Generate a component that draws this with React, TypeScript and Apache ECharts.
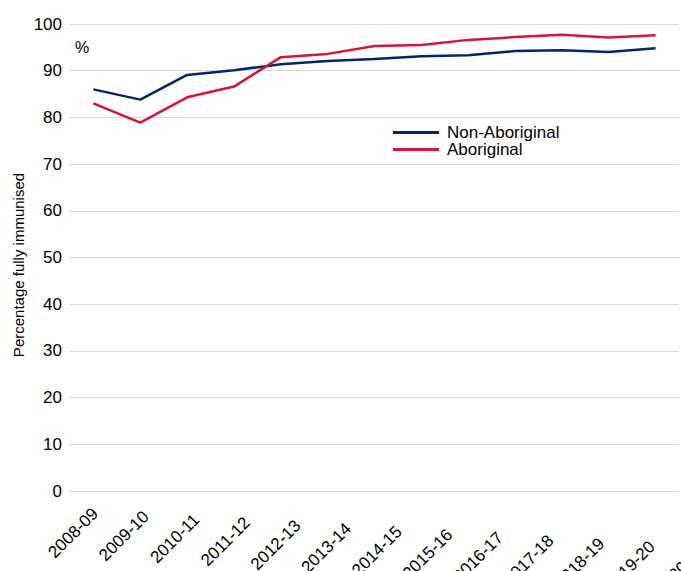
import React, { useEffect, useRef } from "react";
import * as echarts from "echarts";

const categories = [
  "2008-09", "2009-10", "2010-11", "2011-12", "2012-13", "2013-14", "2014-15",
  "2015-16", "2016-17", "2017-18", "2018-19", "2019-20", "2020-21",
];
const nonAboriginal = [86.0, 83.8, 89.1, 90.1, 91.4, 92.1, 92.5, 93.1, 93.3, 94.2, 94.4, 94.0, 94.8];
const aboriginal = [83.0, 78.9, 84.3, 86.6, 92.9, 93.6, 95.3, 95.5, 96.6, 97.2, 97.7, 97.1, 97.6];
const yTicks = [0, 10, 20, 30, 40, 50, 60, 70, 80, 90, 100];

const FONT = "'Liberation Sans', Arial, Helvetica, sans-serif";

export default function App() {
  const ref = useRef<HTMLDivElement>(null);
  useEffect(() => {
    if (!ref.current) return;
    const chart = echarts.init(ref.current, undefined, { renderer: "svg" });
    const rich: Record<string, any> = {};
    categories.forEach((_, i) => {
      const d = 3 * i;
      rich["p" + i] = {
        fontFamily: FONT,
        fontSize: 17,
        color: "#000",
        padding: [1.414 * d, 0.707 * d, 0, 0],
      };
    });
    chart.setOption({
      animation: false,
      textStyle: { fontFamily: FONT },
      grid: [
        { left: 70, right: 2, top: 24, bottom: 80, containLabel: false, outerBoundsMode: "none" },
        { left: 70, width: 658, top: 24, bottom: 80, containLabel: false, outerBoundsMode: "none" },
      ],
      legend: {
        orient: "vertical",
        left: 393,
        top: 124,
        padding: 0,
        icon: "rect",
        itemWidth: 46,
        itemHeight: 3,
        itemGap: 0,
        textStyle: {
          fontFamily: FONT,
          fontSize: 17,
          lineHeight: 17,
          color: "#000",
          padding: [0, 0, 0, 3],
        },
        data: ["Non-Aboriginal", "Aboriginal"],
      },
      xAxis: [
        {
          type: "category",
          gridIndex: 0,
          data: categories,
          boundaryGap: true,
          axisLine: { show: false },
          axisTick: { show: false },
          axisLabel: { show: false },
        },
        {
          type: "category",
          gridIndex: 1,
          data: categories,
          boundaryGap: true,
          axisLine: { show: false },
          axisTick: { show: false },
          splitLine: { show: false },
          axisLabel: {
            rotate: 45,
            interval: 0,
            hideOverlap: false,
            margin: 20,
            fontFamily: FONT,
            fontSize: 17,
            color: "#000",
            formatter: (value: string, index: number) => `{p${index}|${value}}`,
            rich,
          },
        },
      ],
      yAxis: [
        {
          type: "value",
          gridIndex: 0,
          min: yTicks[0],
          max: yTicks[yTicks.length - 1],
          interval: 10,
          axisLine: { show: false },
          axisTick: { show: false },
          axisLabel: { margin: 8, fontFamily: FONT, fontSize: 17, color: "#000" },
          splitLine: { lineStyle: { color: "#d9d9d9", width: 1 } },
        },
        {
          type: "value",
          gridIndex: 1,
          min: 0,
          max: 100,
          show: false,
          splitLine: { show: false },
        },
      ],
      graphic: [
        {
          type: "text",
          left: 75,
          top: 39,
          style: { text: "%", font: `16px ${FONT}`, fill: "#000" },
        },
        {
          type: "text",
          x: 18,
          y: 265,
          rotation: Math.PI / 2,
          style: {
            text: "Percentage fully immunised",
            font: `15px ${FONT}`,
            fill: "#000",
            align: "center",
            verticalAlign: "middle",
          },
        },
      ],
      series: [
        {
          name: "Non-Aboriginal",
          type: "line",
          xAxisIndex: 0,
          yAxisIndex: 0,
          data: nonAboriginal,
          symbol: "none",
          lineStyle: { color: "#002664", width: 2.5 },
          itemStyle: { color: "#002664" },
        },
        {
          name: "Aboriginal",
          type: "line",
          xAxisIndex: 0,
          yAxisIndex: 0,
          data: aboriginal,
          symbol: "none",
          lineStyle: { color: "#D7153A", width: 2.5 },
          itemStyle: { color: "#D7153A" },
        },
      ],
    });
    return () => chart.dispose();
  }, []);
  return (
    <div
      ref={ref}
      style={{ position: "absolute", left: 0, top: 0, width: 681, height: 571 }}
    />
  );
}
